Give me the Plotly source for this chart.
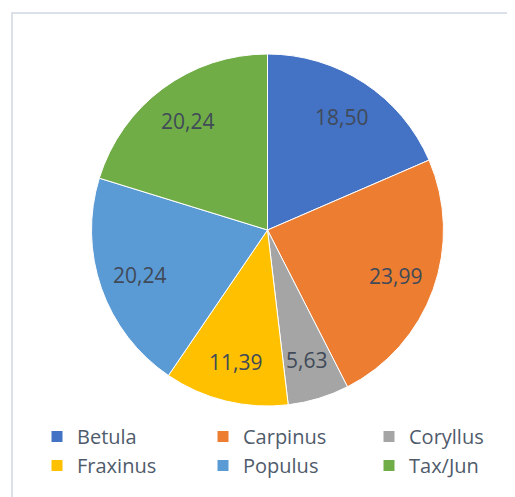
import math
import plotly.graph_objects as go

labels = ["Betula", "Carpinus", "Coryllus", "Fraxinus", "Populus", "Tax/Jun"]
values = [18.50, 23.99, 5.63, 11.39, 20.24, 20.24]
text_labels = ["18,50", "23,99", "5,63", "11,39", "20,24", "20,24"]
colors = ["#4472C4", "#ED7D31", "#A5A5A5", "#FFC000", "#5B9BD5", "#70AD47"]

W, H = 515, 497
OFF = 8  # page body margin
cx, cy, D = 267.5 - OFF, 230 - OFF, 352
LABEL_R = 0.77

fig = go.Figure(go.Pie(
    labels=labels,
    values=values,
    textinfo="none",
    sort=False,
    direction="clockwise",
    rotation=0,
    marker=dict(colors=colors, line=dict(color="white", width=1)),
    domain=dict(x=[(cx - D / 2) / W, (cx + D / 2) / W],
                y=[1 - (cy + D / 2) / H, 1 - (cy - D / 2) / H]),
    hoverinfo="label+value",
))

# data labels at each slice's mid-angle (derived from values)
total = sum(values)
cum = 0.0
annotations = []
for v, t in zip(values, text_labels):
    mid = (cum + v / 2) / total * 2 * math.pi
    cum += v
    px = cx + LABEL_R * D / 2 * math.sin(mid)
    py = cy - LABEL_R * D / 2 * math.cos(mid)
    annotations.append(dict(
        x=px / W, y=1 - py / H, xref="paper", yref="paper",
        text=t, showarrow=False, xanchor="center", yanchor="middle",
        font=dict(family="Open Sans, Liberation Sans, sans-serif", size=21, color="#404A58"),
    ))

fig.update_layout(
    width=W, height=H,
    margin=dict(l=0, r=0, t=0, b=0, autoexpand=False),
    paper_bgcolor="white",
    showlegend=True,
    annotations=annotations,
    legend=dict(
        orientation="h",
        x=(37 - OFF) / W, xanchor="left",
        y=1 - (417 - OFF) / H, yanchor="top",
        entrywidth=121, entrywidthmode="pixels",
        font=dict(family="Open Sans, Liberation Sans, sans-serif", size=20, color="#4F5B6B"),
        traceorder="normal",
        itemclick=False,
    ),
    shapes=[dict(type="rect", xref="paper", yref="paper",
                 x0=(12 - OFF) / W, x1=1.05, y0=-0.05, y1=1 - (13 - OFF) / H,
                 line=dict(color="#DCE0E8", width=2), fillcolor="rgba(0,0,0,0)",
                 layer="below")],
)

fig.write_html("out.html")
